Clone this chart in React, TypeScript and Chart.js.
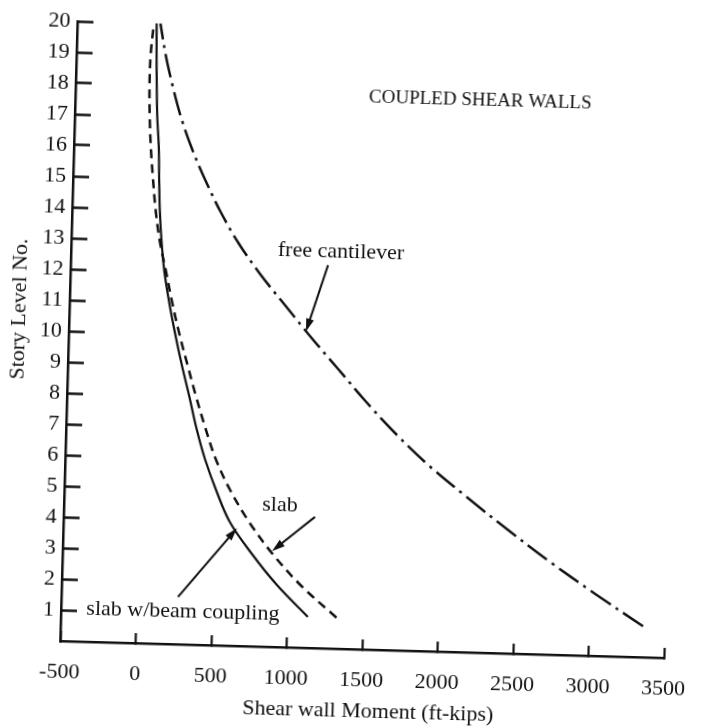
import React, { useEffect, useRef } from "react";
import { Chart, registerables } from "chart.js";

Chart.register(...registerables);

// Story levels 1..20 (level 0 is the base, on the moment axis)
const STORY_LEVELS = [1, 2, 3, 4, 5, 6, 7, 8, 9, 10, 11, 12, 13, 14, 15, 16, 17, 18, 19, 20];

// Shear wall moment (ft-kips) per story, three coupling cases
const SLAB_BEAM_LEVELS = [...STORY_LEVELS, 20.35];
const SLAB_BEAM_MOMENT = [1135, 925, 750, 600, 505, 425, 362, 310, 255, 205, 160, 122, 97, 80, 70, 62, 46, 37, 30, 25, 24];

const SLAB_LEVELS = [1, 2, 3, 4, 5, 6, 7, 8, 9, 10, 11, 12, 13, 14, 15, 16, 17, 18, 19, 19.9];
const SLAB_MOMENT = [1325, 1085, 890, 730, 600, 497, 422, 355, 293, 233, 180, 133, 85, 52, 29, 9, -4, -11, -9, 5];

const CANTILEVER_LEVELS = STORY_LEVELS;
const CANTILEVER_MOMENT = [3356, 3033, 2726, 2440, 2167, 1906, 1680, 1479, 1294, 1108, 932, 758, 606, 481, 375, 281, 203, 142, 90, 50];

const X_TICKS = [-500, 0, 500, 1000, 1500, 2000, 2500, 3000, 3500];
const Y_TICKS = STORY_LEVELS;

const X_TITLE = "Shear wall Moment (ft-kips)";
const Y_TITLE = "Story Level No.";
const CHART_TITLE = "COUPLED SHEAR WALLS";

const FONT = "'Liberation Serif', 'Times New Roman', serif";

// Curve labels with leader arrows, in data units
const NOTES = [
  { text: "free cantilever", at: [1288, 12.8], from: [1204, 12.36], to: [1070, 10.2] },
  { text: "slab", at: [930, 4.58], from: [1164, 4.23], to: [886, 3.09] },
  { text: "slab w/beam coupling", at: [307, 1.05], from: [272, 1.53], to: [650, 3.8] },
];
const TITLE_AT = [1444, 17.8];

function pairs(xs: number[], ys: number[]) {
  return xs.map((x, i) => ({ x, y: ys[i] }));
}

function arrow(ctx: CanvasRenderingContext2D, x1: number, y1: number, x2: number, y2: number) {
  const ang = Math.atan2(y2 - y1, x2 - x1);
  const head = 13;
  const half = 4;
  ctx.beginPath();
  ctx.moveTo(x1, y1);
  ctx.lineTo(x2 - Math.cos(ang) * head * 0.8, y2 - Math.sin(ang) * head * 0.8);
  ctx.lineWidth = 2;
  ctx.strokeStyle = "#111";
  ctx.stroke();
  ctx.beginPath();
  ctx.moveTo(x2, y2);
  ctx.lineTo(x2 - Math.cos(ang) * head - Math.sin(ang) * half, y2 - Math.sin(ang) * head + Math.cos(ang) * half);
  ctx.lineTo(x2 - Math.cos(ang) * head + Math.sin(ang) * half, y2 - Math.sin(ang) * head - Math.cos(ang) * half);
  ctx.closePath();
  ctx.fillStyle = "#111";
  ctx.fill();
}

const notesPlugin = {
  id: "curveNotes",
  afterDatasetsDraw(chart: any) {
    const { ctx, chartArea } = chart;
    const xs = chart.scales.x;
    const ys = chart.scales.y;
    ctx.save();
    ctx.fillStyle = "#111";
    ctx.textBaseline = "middle";

    ctx.font = `19px ${FONT}`;
    ctx.textAlign = "left";
    ctx.fillText(CHART_TITLE, xs.getPixelForValue(TITLE_AT[0]), ys.getPixelForValue(TITLE_AT[1]));

    ctx.font = `22px ${FONT}`;
    ctx.textAlign = "center";
    for (const n of NOTES) {
      ctx.fillStyle = "#111";
      ctx.fillText(n.text, xs.getPixelForValue(n.at[0]), ys.getPixelForValue(n.at[1]));
      arrow(
        ctx,
        xs.getPixelForValue(n.from[0]),
        ys.getPixelForValue(n.from[1]),
        xs.getPixelForValue(n.to[0]),
        ys.getPixelForValue(n.to[1])
      );
    }

    // axis titles
    ctx.fillStyle = "#111";
    ctx.font = `22px ${FONT}`;
    ctx.fillText(X_TITLE, xs.getPixelForValue(1550), chartArea.bottom + 62);
    ctx.translate(chartArea.left - 50, ys.getPixelForValue(10.67));
    ctx.rotate(-Math.PI / 2);
    ctx.fillText(Y_TITLE, 0, 0);
    ctx.restore();
  },
};

export default function App() {
  const ref = useRef<HTMLCanvasElement | null>(null);

  useEffect(() => {
    if (!ref.current) return;
    const chart = new Chart(ref.current, {
      type: "line",
      data: {
        datasets: [
          {
            label: "slab w/beam coupling",
            data: pairs(SLAB_BEAM_MOMENT, SLAB_BEAM_LEVELS),
            borderColor: "#111",
            borderWidth: 2.2,
            pointRadius: 0,
            tension: 0.35,
            clip: false as any,
          },
          {
            label: "slab",
            data: pairs(SLAB_MOMENT, SLAB_LEVELS),
            borderColor: "#111",
            borderWidth: 2.5,
            borderDash: [9, 6],
            pointRadius: 0,
            tension: 0.35,
            clip: false as any,
          },
          {
            label: "free cantilever",
            data: pairs(CANTILEVER_MOMENT, CANTILEVER_LEVELS),
            borderColor: "#111",
            borderWidth: 2.5,
            borderDash: [24, 6, 3, 6],
            pointRadius: 0,
            tension: 0.35,
            clip: false as any,
          },
        ],
      },
      options: {
        animation: false,
        responsive: false,
        devicePixelRatio: 1,
        indexAxis: "y",
        layout: { padding: { top: 29, right: 30, left: 0, bottom: 0 } },
        plugins: { legend: { display: false }, tooltip: { enabled: false } },
        scales: {
          x: {
            type: "linear",
            position: "bottom",
            min: -500,
            max: 3500,
            afterBuildTicks: (s: any) => {
              s.ticks = X_TICKS.map((v) => ({ value: v }));
            },
            afterFit: (s: any) => {
              s.height = 78;
              s.paddingLeft = 0;
              s.paddingRight = 0;
            },
            ticks: {
              color: "#111",
              font: { family: FONT, size: 22 },
              padding: 28,
              maxRotation: 0,
              autoSkip: false,
              callback: (v: any) => String(v),
            },
            grid: {
              drawOnChartArea: false,
              drawTicks: true,
              tickLength: -10,
              tickWidth: 2.2,
              tickColor: "#111",
            },
            border: { color: "#111", width: 2.5 },
          },
          y: {
            type: "linear",
            position: "left",
            min: 0,
            max: 20,
            afterBuildTicks: (s: any) => {
              s.ticks = Y_TICKS.map((v) => ({ value: v }));
            },
            afterFit: (s: any) => {
              s.width = 68;
              s.paddingTop = 0;
              s.paddingBottom = 0;
            },
            ticks: {
              color: "#111",
              font: { family: FONT, size: 22 },
              padding: 23,
              autoSkip: false,
              callback: (v: any) => String(v),
            },
            grid: {
              drawOnChartArea: false,
              drawTicks: true,
              tickLength: -16,
              tickWidth: 2.5,
              tickColor: "#111",
            },
            border: { color: "#111", width: 2.5 },
          },
        },
      } as any,
      plugins: [notesPlugin],
    });
    return () => chart.destroy();
  }, []);

  return (
    <div
      style={{
        position: "fixed",
        left: 0,
        top: 0,
        width: 702,
        height: 727,
        background: "#fff",
        transform: "rotate(1.6deg)",
        transformOrigin: "351px 363.5px",
      }}
    >
      <canvas ref={ref} width={702} height={727} style={{ width: 702, height: 727, display: "block" }} />
    </div>
  );
}
